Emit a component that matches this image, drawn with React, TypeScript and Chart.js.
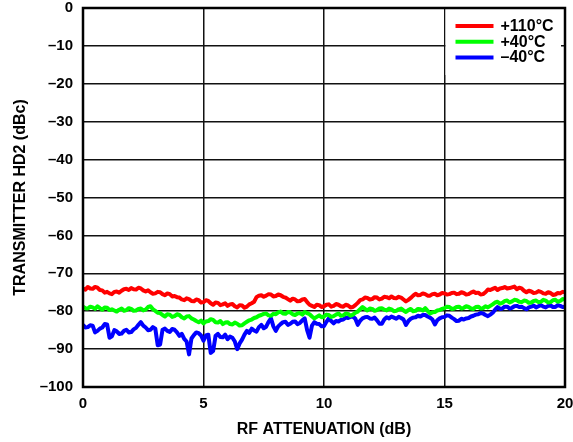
import React, { useEffect, useRef } from 'react';
import { Chart, registerables } from 'chart.js';

Chart.register(...registerables);

const attenuationDb = [
  0.0, 0.1, 0.2, 0.3, 0.4, 0.5, 0.6, 0.7, 0.8, 0.9,
  1.0, 1.1, 1.2, 1.3, 1.4, 1.5, 1.6, 1.7, 1.8, 1.9,
  2.0, 2.1, 2.2, 2.3, 2.4, 2.5, 2.6, 2.7, 2.8, 2.9,
  3.0, 3.1, 3.2, 3.3, 3.4, 3.5, 3.6, 3.7, 3.8, 3.9,
  4.0, 4.1, 4.2, 4.3, 4.4, 4.5, 4.6, 4.7, 4.8, 4.9,
  5.0, 5.1, 5.2, 5.3, 5.4, 5.5, 5.6, 5.7, 5.8, 5.9,
  6.0, 6.1, 6.2, 6.3, 6.4, 6.5, 6.6, 6.7, 6.8, 6.9,
  7.0, 7.1, 7.2, 7.3, 7.4, 7.5, 7.6, 7.7, 7.8, 7.9,
  8.0, 8.1, 8.2, 8.3, 8.4, 8.5, 8.6, 8.7, 8.8, 8.9,
  9.0, 9.1, 9.2, 9.3, 9.4, 9.5, 9.6, 9.7, 9.8, 9.9,
  10.0, 10.1, 10.2, 10.3, 10.4, 10.5, 10.6, 10.7, 10.8, 10.9,
  11.0, 11.1, 11.2, 11.3, 11.4, 11.5, 11.6, 11.7, 11.8, 11.9,
  12.0, 12.1, 12.2, 12.3, 12.4, 12.5, 12.6, 12.7, 12.8, 12.9,
  13.0, 13.1, 13.2, 13.3, 13.4, 13.5, 13.6, 13.7, 13.8, 13.9,
  14.0, 14.1, 14.2, 14.3, 14.4, 14.5, 14.6, 14.7, 14.8, 14.9,
  15.0, 15.1, 15.2, 15.3, 15.4, 15.5, 15.6, 15.7, 15.8, 15.9,
  16.0, 16.1, 16.2, 16.3, 16.4, 16.5, 16.6, 16.7, 16.8, 16.9,
  17.0, 17.1, 17.2, 17.3, 17.4, 17.5, 17.6, 17.7, 17.8, 17.9,
  18.0, 18.1, 18.2, 18.3, 18.4, 18.5, 18.6, 18.7, 18.8, 18.9,
  19.0, 19.1, 19.2, 19.3, 19.4, 19.5, 19.6, 19.7, 19.8, 19.9,
  20.0,
];

const hd2Plus110 = [
  -74.0, -74.3, -73.6, -74.0, -74.1, -73.6, -73.8, -74.4, -74.5, -75.1,
  -74.9, -75.3, -75.5, -74.9, -74.8, -75.1, -74.6, -74.2, -74.1, -74.4,
  -73.9, -74.2, -74.3, -73.8, -74.0, -74.5, -74.8, -74.5, -75.0, -75.4,
  -75.3, -74.9, -75.0, -75.5, -75.8, -75.3, -75.5, -76.1, -76.0, -76.3,
  -76.4, -76.9, -77.1, -76.6, -76.8, -77.3, -77.4, -76.9, -77.1, -77.7,
  -77.6, -77.1, -77.3, -77.9, -78.3, -77.7, -77.8, -78.4, -78.2, -77.9,
  -78.6, -78.2, -78.1, -78.7, -79.0, -78.4, -78.5, -79.1, -78.8, -78.2,
  -77.9, -77.5, -76.3, -75.9, -75.8, -76.2, -75.9, -75.5, -75.6, -76.1,
  -76.0, -75.6, -75.8, -76.2, -76.4, -76.8, -77.2, -76.7, -76.9, -77.4,
  -77.3, -76.9, -76.8, -77.6, -78.3, -78.6, -78.9, -78.3, -78.4, -78.9,
  -78.7, -78.3, -78.2, -78.8, -78.6, -78.1, -78.3, -78.7, -78.8, -78.3,
  -78.5, -79.0, -78.9, -78.4, -77.8, -77.1, -76.9, -76.4, -76.5, -76.9,
  -76.8, -76.3, -76.4, -76.9, -76.7, -76.2, -76.3, -76.6, -76.1, -76.5,
  -76.6, -76.2, -76.4, -76.9, -77.4, -77.0, -76.5, -75.9, -75.4, -75.8,
  -75.7, -75.3, -75.5, -75.9, -75.9, -75.5, -75.4, -75.8, -75.6, -75.2,
  -75.3, -75.6, -75.5, -75.2, -75.1, -75.5, -75.4, -75.0, -75.2, -75.6,
  -75.5, -75.1, -74.8, -75.2, -75.1, -75.6, -75.5, -75.0, -74.3, -74.4,
  -74.1, -73.8, -74.4, -74.0, -73.9, -73.6, -74.0, -73.9, -73.7, -73.5,
  -74.2, -73.8, -74.0, -74.6, -75.0, -74.6, -74.8, -75.2, -75.1, -74.7,
  -74.9, -75.3, -75.4, -75.0, -75.2, -75.7, -75.6, -75.2, -75.3, -74.9,
  -75.0,
];

const hd2Plus40 = [
  -78.8, -79.2, -79.3, -78.8, -79.0, -79.4, -78.7, -79.2, -79.6, -79.0,
  -79.1, -79.7, -79.5, -79.8, -80.1, -79.6, -79.3, -79.9, -79.7, -79.2,
  -79.4, -79.9, -79.8, -79.4, -79.3, -79.8, -79.6, -78.9, -78.7, -79.5,
  -79.9, -80.4, -80.5, -81.0, -81.4, -80.8, -80.9, -81.5, -81.3, -80.8,
  -81.0, -81.6, -81.9, -81.4, -81.3, -81.9, -82.2, -82.6, -82.9, -82.5,
  -83.2, -82.7, -82.6, -82.1, -82.3, -82.9, -83.0, -82.6, -83.4, -83.0,
  -82.9, -83.4, -83.5, -83.0, -83.3, -83.8, -83.7, -83.2, -82.8, -82.4,
  -82.2, -81.8, -81.6, -81.2, -81.0, -80.7, -80.6, -81.1, -81.2, -80.7,
  -80.8, -80.3, -80.1, -80.6, -80.7, -80.2, -80.3, -80.8, -81.0, -80.6,
  -80.5, -80.9, -80.2, -80.5, -80.8, -81.4, -81.9, -81.5, -81.1, -81.6,
  -81.4, -80.9, -81.0, -81.5, -81.3, -80.9, -80.6, -81.2, -81.1, -80.6,
  -80.7, -81.2, -80.9, -80.4, -80.1, -79.5, -78.9, -79.4, -79.8, -79.3,
  -79.4, -79.9, -79.7, -79.3, -79.2, -79.6, -79.8, -79.3, -79.5, -80.0,
  -79.9, -79.5, -79.3, -79.8, -80.2, -79.7, -79.4, -80.0, -79.9, -79.4,
  -79.5, -79.8, -79.2, -79.9, -80.6, -80.3, -80.2, -79.8, -79.7, -79.4,
  -79.2, -78.8, -78.9, -79.4, -79.3, -78.9, -78.8, -79.3, -79.1, -78.7,
  -78.9, -79.3, -79.4, -78.9, -78.8, -79.3, -79.2, -78.7, -79.0, -78.6,
  -78.2, -77.7, -77.5, -78.0, -77.8, -77.3, -77.2, -77.7, -77.4, -77.0,
  -77.1, -77.5, -77.6, -77.2, -77.3, -77.8, -77.7, -77.3, -77.2, -77.6,
  -77.5, -77.0, -77.2, -77.7, -77.6, -77.1, -77.0, -77.5, -77.3, -76.8,
  -76.9,
];

const hd2Minus40 = [
  -83.6, -84.3, -84.2, -83.7, -83.8, -85.6, -85.2, -84.6, -84.3, -83.4,
  -83.5, -87.0, -86.6, -85.0, -85.3, -86.0, -85.9, -85.2, -84.9, -85.6,
  -85.5, -84.8, -84.4, -83.6, -82.9, -83.8, -84.3, -85.0, -84.9, -84.2,
  -84.6, -89.0, -88.8, -84.9, -84.6, -85.2, -85.5, -84.7, -84.9, -85.6,
  -86.5, -86.0, -87.3, -88.0, -91.4, -87.2, -86.3, -85.6, -85.8, -86.4,
  -87.8, -86.4, -86.2, -91.0, -90.5, -86.5, -86.0, -86.8, -86.9, -86.2,
  -87.4, -86.7, -87.0, -88.0, -90.0, -88.5, -87.5, -86.2, -85.2, -85.7,
  -84.6, -85.1, -85.4, -84.2, -83.6, -84.5, -84.1, -82.8, -81.9, -84.0,
  -85.2, -84.0, -83.4, -82.9, -82.8, -83.6, -83.3, -82.8, -82.7, -83.4,
  -83.1, -82.4, -81.9, -85.0, -87.0, -83.8, -82.9, -83.3, -83.4, -84.0,
  -83.9, -82.8, -81.9, -82.6, -83.2, -82.6, -82.7, -82.3, -82.2, -81.7,
  -81.8, -81.5, -81.4, -82.0, -83.6, -82.5, -81.9, -81.6, -81.5, -81.9,
  -82.0, -81.7, -82.4, -83.3, -83.3, -82.2, -81.6, -81.9, -81.4, -81.7,
  -82.0, -81.5, -81.8, -82.2, -83.6, -82.6, -82.0, -81.7, -81.6, -81.2,
  -81.4, -81.0, -81.0, -81.4, -81.7, -82.2, -83.5, -82.4, -81.9, -81.6,
  -81.5, -81.1, -81.2, -81.7, -82.1, -82.6, -82.5, -82.0, -82.2, -81.9,
  -81.8, -81.4, -81.2, -80.9, -80.8, -80.5, -80.6, -81.0, -81.3, -80.9,
  -80.4, -79.6, -78.9, -79.4, -79.3, -78.8, -78.8, -79.3, -79.1, -78.7,
  -78.6, -78.9, -78.8, -79.2, -79.5, -79.0, -78.8, -78.5, -79.0, -78.7,
  -78.4, -78.8, -79.0, -78.6, -78.5, -78.9, -78.9, -78.4, -78.6, -78.9,
  -78.8,
];

const seriesLabels = ['+110°C', '+40°C', '–40°C'];
const seriesColors = ['#ff0000', '#00ff00', '#0000ff'];
const xTickValues = [0, 5, 10, 15, 20];
const yTickValues = [0, -10, -20, -30, -40, -50, -60, -70, -80, -90, -100];
const yTickLabels = ['0', '–10', '–20', '–30', '–40', '–50', '–60', '–70', '–80', '–90', '–100'];
const xTitle = 'RF ATTENUATION (dB)';
const yTitle = 'TRANSMITTER HD2 (dBc)';

const FONT = "'Liberation Sans', Arial, Helvetica, sans-serif";

const framePlugin = {
  id: 'framePlugin',
  afterDatasetsDraw(chart: any) {
    const { ctx, chartArea } = chart;
    const { left, top, right, bottom } = chartArea;
    const xs = chart.scales.x;
    ctx.save();
    const boxLeft = xs.getPixelForValue(15) + 1;
    const boxRight = right - 4;
    ctx.fillStyle = '#ffffff';
    ctx.fillRect(boxLeft, top + 1, boxRight - boxLeft, 66);
    ctx.font = `bold 16px ${FONT}`;
    ctx.textBaseline = 'middle';
    ctx.textAlign = 'left';
    chart.data.datasets.forEach((ds: any, i: number) => {
      const y = top + 18 + i * 15.7;
      ctx.strokeStyle = ds.borderColor;
      ctx.lineWidth = 4;
      ctx.lineCap = 'butt';
      ctx.beginPath();
      ctx.moveTo(boxLeft + 10, y);
      ctx.lineTo(boxLeft + 48, y);
      ctx.stroke();
      ctx.fillStyle = '#000';
      ctx.fillText(ds.label, boxLeft + 55, y + 0.5);
    });
    ctx.strokeStyle = '#000';
    ctx.lineWidth = 2.5;
    ctx.strokeRect(left, top, right - left, bottom - top);
    ctx.restore();
  },
};

export default function App() {
  const canvasRef = useRef<HTMLCanvasElement | null>(null);

  useEffect(() => {
    document.body.style.margin = '0';
    const canvas = canvasRef.current;
    if (!canvas) return;
    const series = [hd2Plus110, hd2Plus40, hd2Minus40];
    const chart = new Chart(canvas, {
      type: 'line',
      data: {
        datasets: series.map((vals, i) => ({
          label: seriesLabels[i],
          data: attenuationDb.map((x, j) => ({ x, y: vals[j] })),
          borderColor: seriesColors[i],
          backgroundColor: seriesColors[i],
          borderWidth: 4,
          pointRadius: 0,
          tension: 0,
          fill: false,
          borderJoinStyle: 'round',
        })),
      },
      options: {
        responsive: false,
        animation: false,
        layout: { padding: { left: 0, right: 8, top: 8, bottom: 0 } },
        plugins: {
          legend: { display: false },
          tooltip: { enabled: false },
        },
        scales: {
          x: {
            type: 'linear',
            min: 0,
            max: 20,
            afterFit: (s: any) => {
              s.height = 55;
              s.paddingLeft = 0;
              s.paddingRight = 0;
            },
            afterBuildTicks: (s: any) => { s.ticks = xTickValues.map((v) => ({ value: v })); },
            ticks: {
              padding: 8,
              color: '#000',
              font: { family: FONT, size: 15, weight: 'bold' },
              callback: (v: any) => String(v),
              maxRotation: 0,
            },
            grid: { color: '#111', lineWidth: 1.5, drawTicks: false },
            border: { display: false },
            title: {
              display: true,
              text: xTitle,
              color: '#000',
              font: { family: FONT, size: 16, weight: 'bold' },
              padding: { top: 0, bottom: 3 },
            },
          },
          y: {
            type: 'linear',
            min: -100,
            max: 0,
            afterFit: (s: any) => {
              s.width = 83;
              s.paddingTop = 0;
              s.paddingBottom = 0;
            },
            afterBuildTicks: (s: any) => { s.ticks = yTickValues.map((v) => ({ value: v })); },
            ticks: {
              padding: 10,
              color: '#000',
              font: { family: FONT, size: 15, weight: 'bold' },
              callback: (v: any) => {
                const idx = yTickValues.indexOf(Number(v));
                return idx >= 0 ? yTickLabels[idx] : '';
              },
            },
            grid: { color: '#111', lineWidth: 1.5, drawTicks: false },
            border: { display: false },
            title: {
              display: true,
              text: yTitle,
              color: '#000',
              font: { family: FONT, size: 16, weight: 'bold' },
              padding: { top: 11, bottom: 0 },
            },
          },
        },
      },
      plugins: [framePlugin],
    });
    return () => chart.destroy();
  }, []);

  return (
    <div style={{ width: 573, height: 442 }}>
      <canvas ref={canvasRef} width={573} height={442} style={{ display: 'block' }} />
    </div>
  );
}
